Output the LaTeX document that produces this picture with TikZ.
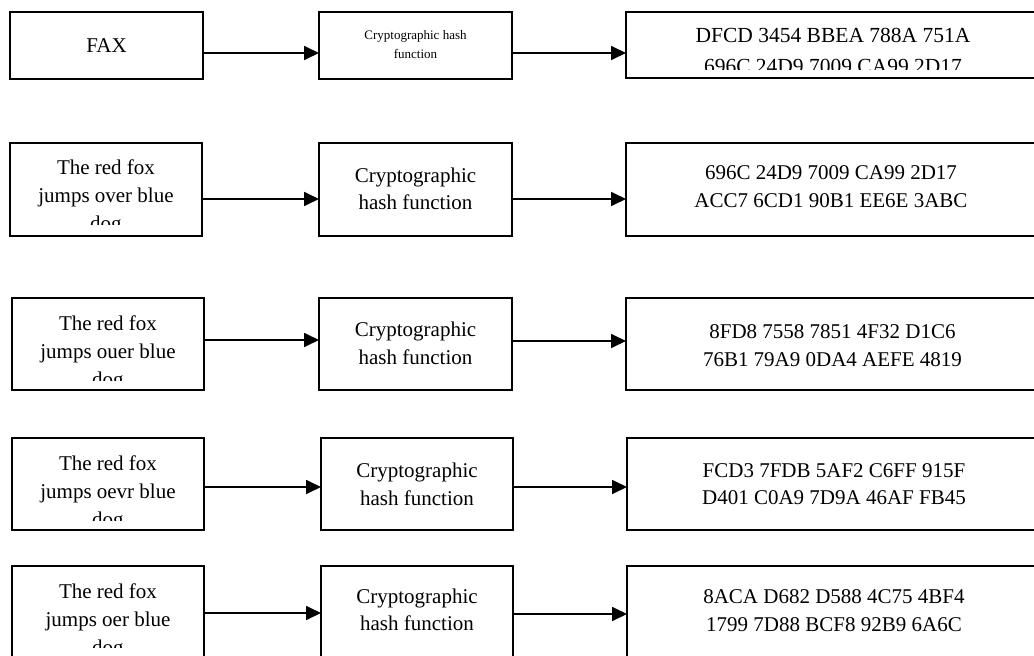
\documentclass[tikz,border=0pt]{standalone}
\usepackage{fontspec}
\setmainfont{Liberation Serif}
\usetikzlibrary{arrows.meta}

\tikzset{
  box/.style={draw=black, line width=1.7pt, rectangle, inner sep=0pt, outer sep=0pt},
  arr/.style={line width=1.8pt, -{Triangle[length=15pt,width=14pt]}},
  txt/.style={inner sep=0pt, anchor=base},
  big/.style={font=\fontsize{21pt}{28pt}\selectfont},
  small/.style={font=\fontsize{13pt}{19pt}\selectfont}
}
\newcommand{\lines}[2]{\parbox[t]{#1}{\centering #2}}

\begin{document}
\begin{tikzpicture}[x=1pt, y=-1pt]
  \clip (0,0) rectangle (1034,656);
  \fill[white] (0,0) rectangle (1034,656);

  % ---- row 1 ----
  \node[box, minimum width=193pt, minimum height=67pt] (a1) at (106.5,45.5) {};
  \node[box, minimum width=193pt, minimum height=67pt] (b1) at (415.5,45.5) {};
  \node[box, minimum width=410pt, minimum height=66pt] (c1) at (831,45) {};
  \node[txt, big] (ta1) at (106.5,52) {FAX};
  \node[txt, small] (tb1) at (415.5,39) {\lines{180pt}{Cryptographic hash\\function}};
  \begin{scope}
    \clip (c1.north west) rectangle ([yshift=8.5pt]c1.south east);
    \node[txt, font=\fontsize{21.5pt}{31pt}\selectfont] (tc1) at (833,42.5)
      {\lines{400pt}{DFCD 3454 BBEA 788A 751A\\696C 24D9 7009 CA99 2D17}};
  \end{scope}
  \draw[arr] ([yshift=-7.5pt]a1.east) -- ([yshift=-7.5pt]b1.west);
  \draw[arr] ([yshift=-7.5pt]b1.east) -- ([yshift=-8pt]c1.west);

  % ---- row 2 ----
  \node[box, minimum width=192pt, minimum height=93pt] (a2) at (106,189.5) {};
  \node[box, minimum width=193pt, minimum height=93pt] (b2) at (415.5,189.5) {};
  \node[box, minimum width=410pt, minimum height=93pt] (c2) at (831,189.5) {};
  \begin{scope}
    \clip (a2.north west) rectangle ([yshift=12pt]a2.south east);
    \node[txt, big] (ta2) at (106,174) {\lines{185pt}{The red fox\\jumps over blue\\dog}};
  \end{scope}
  \node[txt, big, font=\fontsize{21pt}{27pt}\selectfont] (tb2) at (415.5,182) {\lines{185pt}{Cryptographic\\hash function}};
  \node[txt, big] (tc2) at (831,179) {\lines{400pt}{696C 24D9 7009 CA99 2D17\\ACC7 6CD1 90B1 EE6E 3ABC}};
  \draw[arr] ([yshift=-9.5pt]a2.east) -- ([yshift=-9.5pt]b2.west);
  \draw[arr] ([yshift=-9.5pt]b2.east) -- ([yshift=-9.5pt]c2.west);

  % ---- row 3 ----
  \node[box, minimum width=192pt, minimum height=92pt] (a3) at (108,344) {};
  \node[box, minimum width=193pt, minimum height=92pt] (b3) at (415.5,344) {};
  \node[box, minimum width=412pt, minimum height=92pt] (c3) at (832,344) {};
  \begin{scope}
    \clip (a3.north west) rectangle ([yshift=10pt]a3.south east);
    \node[txt, big] (ta3) at (108,330) {\lines{185pt}{The red fox\\jumps ouer blue\\dog}};
  \end{scope}
  \node[txt, big] (tb3) at (415.5,336.5) {\lines{185pt}{Cryptographic\\hash function}};
  \node[txt, big] (tc3) at (832.5,338) {\lines{400pt}{8FD8 7558 7851 4F32 D1C6\\76B1 79A9 0DA4 AEFE 4819}};
  \draw[arr] ([yshift=4pt]a3.east) -- ([yshift=4pt]b3.west);
  \draw[arr] ([yshift=3pt]b3.east) -- ([yshift=3pt]c3.west);

  % ---- row 4 ----
  \node[box, minimum width=192pt, minimum height=92pt] (a4) at (108,484) {};
  \node[box, minimum width=192pt, minimum height=92pt] (b4) at (417,484) {};
  \node[box, minimum width=411pt, minimum height=92pt] (c4) at (832.5,484) {};
  \begin{scope}
    \clip (a4.north west) rectangle ([yshift=10pt]a4.south east);
    \node[txt, big] (ta4) at (108,470) {\lines{185pt}{The red fox\\jumps oevr blue\\dog}};
  \end{scope}
  \node[txt, big] (tb4) at (417,477) {\lines{185pt}{Cryptographic\\hash function}};
  \node[txt, big, font=\fontsize{21pt}{27.5pt}\selectfont] (tc4) at (834,477) {\lines{400pt}{FCD3 7FDB 5AF2 C6FF 915F\\D401 C0A9 7D9A 46AF FB45}};
  \draw[arr] ([yshift=-3pt]a4.east) -- ([yshift=-3pt]b4.west);
  \draw[arr] ([yshift=-3pt]b4.east) -- ([yshift=-3pt]c4.west);

  % ---- row 5 ----
  \node[box, minimum width=192pt, minimum height=94pt] (a5) at (108,613) {};
  \node[box, minimum width=192pt, minimum height=94pt] (b5) at (417,613) {};
  \node[box, minimum width=411pt, minimum height=94pt] (c5) at (832.5,613) {};
  \begin{scope}
    \clip (a5.north west) rectangle ([yshift=13pt]a5.south east);
    \node[txt, big] (ta5) at (108,598) {\lines{185pt}{The red fox\\jumps oer blue\\dog}};
  \end{scope}
  \node[txt, big, font=\fontsize{21pt}{27pt}\selectfont] (tb5) at (417,603) {\lines{185pt}{Cryptographic\\hash function}};
  \node[txt, big] (tc5) at (834,603) {\lines{400pt}{8ACA D682 D588 4C75 4BF4\\1799 7D88 BCF8 92B9 6A6C}};
  \draw[arr] (a5.east) -- (b5.west);
  \draw[arr] ([yshift=-1pt]b5.east) -- ([yshift=-1pt]c5.west);
\end{tikzpicture}
\end{document}
